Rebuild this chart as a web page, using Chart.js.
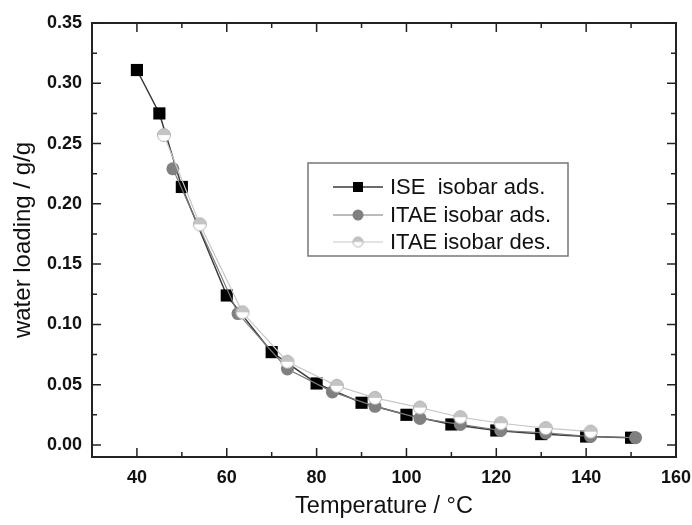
<!DOCTYPE html>
<html>
<head>
<meta charset="utf-8">
<script src="https://cdn.jsdelivr.net/npm/chart.js@4/dist/chart.umd.min.js"></script>
<style>
  html,body{margin:0;padding:0;background:#fff;}
  #wrap{width:692px;height:525px;}
</style>
</head>
<body>
<div id="wrap"><canvas id="c" width="692" height="525"></canvas></div>
<script>
// values
const iseT   = [40,45,50,60,70,80,90,100,110,120,130,140,150];
const iseW   = [0.311,0.275,0.214,0.124,0.077,0.051,0.035,0.025,0.017,0.012,0.009,0.007,0.006];
const adsT   = [48,62.5,73.5,83.5,93,103,112,121,131,141,151];
const adsW   = [0.229,0.109,0.063,0.044,0.032,0.022,0.017,0.012,0.010,0.007,0.006];
const desT   = [46,54,63.5,73.5,84.5,93,103,112,121,131,141];
const desW   = [0.257,0.183,0.110,0.069,0.049,0.039,0.031,0.023,0.018,0.014,0.011];
const xTicks = [40,60,80,100,120,140,160];
const yTicks = [0.00,0.05,0.10,0.15,0.20,0.25,0.30,0.35];
const labels = ["ISE  isobar ads.","ITAE isobar ads.","ITAE isobar des."];

const FONT = "'Liberation Sans', Arial, sans-serif";
const pts = (xs, ys) => xs.map((x, i) => ({x, y: ys[i]}));

// half filled circle marker (top grey, bottom white)
function halfDot(r){
  const c=document.createElement("canvas");const s=Math.ceil(r*2+3);c.width=c.height=s;
  const g=c.getContext("2d");const m=s/2;
  g.beginPath();g.arc(m,m,r,0,Math.PI*2);g.fillStyle="#fff";g.fill();
  g.beginPath();g.arc(m,m,r,Math.PI,0);g.closePath();g.fillStyle="#c4c4c4";g.fill();
  g.beginPath();g.arc(m,m,r,0,Math.PI*2);g.strokeStyle="#b0b0b0";g.lineWidth=1;g.stroke();
  return c;
}
const desDot = halfDot(6.5), desDotSmall = halfDot(5);

// frame with inward ticks on all four sides
const framePlugin = {
  id:"frame",
  beforeDatasetsDraw(chart){
    const {ctx, chartArea:a, scales:{x, y}} = chart;
    ctx.save();
    ctx.strokeStyle="#222";ctx.lineWidth=2;
    ctx.strokeRect(a.left, a.top, a.right-a.left, a.bottom-a.top);
    ctx.lineWidth=1.5;
    const tick=(v, len, horiz)=>{
      ctx.beginPath();
      if(horiz){const p=x.getPixelForValue(v);ctx.moveTo(p,a.bottom);ctx.lineTo(p,a.bottom-len);ctx.moveTo(p,a.top);ctx.lineTo(p,a.top+len);}
      else{const p=y.getPixelForValue(v);ctx.moveTo(a.left,p);ctx.lineTo(a.left+len,p);ctx.moveTo(a.right,p);ctx.lineTo(a.right-len,p);}
      ctx.stroke();
    };
    xTicks.forEach(v=>{tick(v,9,true);if(v-10>x.min)tick(v-10,5,true);});
    yTicks.forEach(v=>{tick(v,9,false);if(v+0.025<y.max)tick(v+0.025,5,false);});
    ctx.restore();
  }
};

// boxed legend inside the plot
const legendPlugin = {
  id:"boxLegend",
  afterDraw(chart){
    const {ctx} = chart;
    const bx=308, by=163, bw=260, bh=93;
    ctx.save();
    ctx.fillStyle="#fff";ctx.fillRect(bx,by,bw,bh);
    ctx.strokeStyle="#777";ctx.lineWidth=1.5;ctx.strokeRect(bx,by,bw,bh);
    const rows=[187,215,242];
    chart.data.datasets.forEach((ds,i)=>{
      const yy=rows[i];
      ctx.strokeStyle=ds.borderColor;ctx.lineWidth=ds.borderWidth;
      ctx.beginPath();ctx.moveTo(333,yy);ctx.lineTo(383,yy);ctx.stroke();
      if(i===0){ctx.fillStyle="#000";ctx.fillRect(353,yy-5,10,10);}
      else if(i===1){ctx.fillStyle=ds.pointBackgroundColor;ctx.beginPath();ctx.arc(358,yy,5.5,0,Math.PI*2);ctx.fill();}
      else{ctx.drawImage(desDotSmall,358-desDotSmall.width/2,yy-desDotSmall.height/2);}
      ctx.fillStyle="#111";ctx.font="22px "+FONT;ctx.textBaseline="middle";
      ctx.fillText(ds.label,390,yy+1);
    });
    ctx.restore();
  }
};

new Chart(document.getElementById("c"),{
  type:"line",
  data:{datasets:[
    {label:labels[0],data:pts(iseT,iseW),borderColor:"#3a3a3a",borderWidth:1.5,pointStyle:"rect",pointRadius:8.6,pointBackgroundColor:"#000",pointBorderColor:"#000",pointBorderWidth:0,order:3},
    {label:labels[1],data:pts(adsT,adsW),borderColor:"#7a7a7a",borderWidth:1.2,pointStyle:"circle",pointRadius:6.5,pointBackgroundColor:"#808080",pointBorderColor:"#808080",pointBorderWidth:0,order:2},
    {label:labels[2],data:pts(desT,desW),borderColor:"#c8c8c8",borderWidth:1.2,pointStyle:desDot,pointRadius:6.5,order:1}
  ]},
  options:{
    responsive:false,animation:false,devicePixelRatio:1,
    layout:{padding:{left:0,top:23,right:16,bottom:0}},
    plugins:{legend:{display:false},tooltip:{enabled:false}},
    scales:{
      x:{type:"linear",min:30,max:160,
        grid:{display:false,drawTicks:false},border:{display:false},
        afterBuildTicks:s=>{s.ticks=xTicks.map(v=>({value:v}));},
        afterFit:s=>{s.height=68;s.paddingLeft=0;s.paddingRight=0;},
        ticks:{color:"#111",padding:10,font:{family:FONT,size:18,weight:"bold"},maxRotation:0,callback:v=>String(v)},
        title:{display:true,text:"Temperature / °C",color:"#111",font:{family:FONT,size:23.5},padding:{top:0,bottom:4}}},
      y:{type:"linear",min:-0.01,max:0.35,
        grid:{display:false,drawTicks:false},border:{display:false},
        afterBuildTicks:s=>{s.ticks=yTicks.map(v=>({value:v}));},
        afterFit:s=>{s.width=92;s.paddingTop=0;s.paddingBottom=0;},
        ticks:{color:"#111",padding:10,font:{family:FONT,size:18,weight:"bold"},callback:v=>Number(v).toFixed(2)},
        title:{display:true,text:"water loading / g/g",color:"#111",font:{family:FONT,size:24},padding:{top:9,bottom:0}}}
    }
  },
  plugins:[framePlugin,legendPlugin]
});
</script>
</body>
</html>
